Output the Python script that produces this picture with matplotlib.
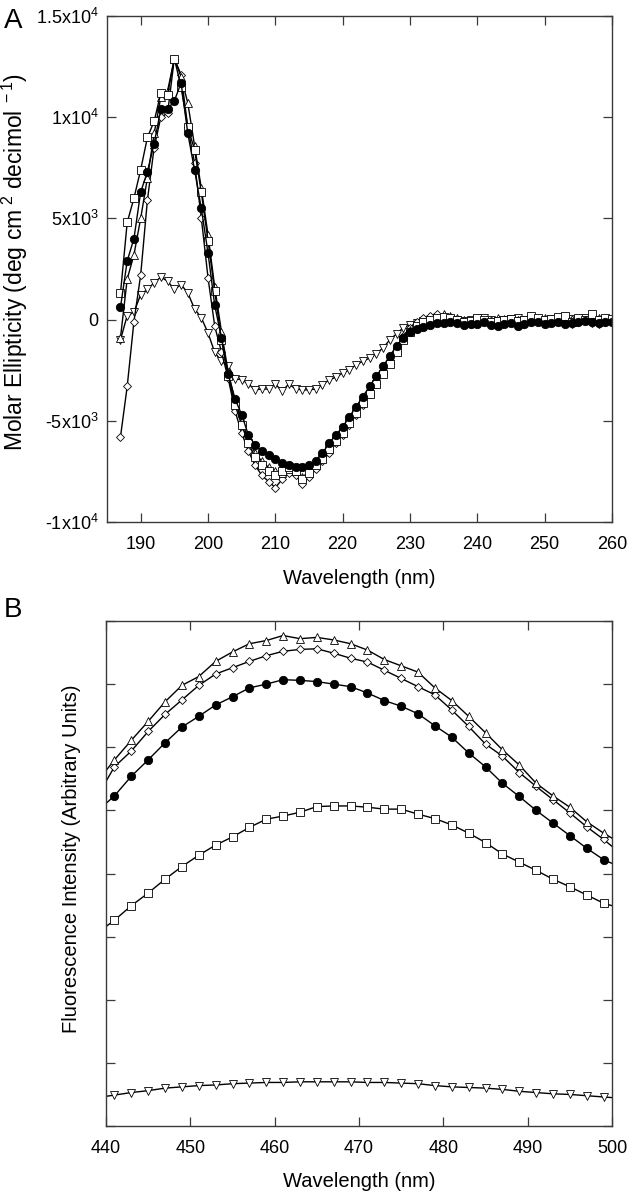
import numpy as np
import matplotlib
matplotlib.use("Agg")
import matplotlib.pyplot as plt

plt.rcParams['font.family'] = ['Liberation Sans', 'DejaVu Sans']
plt.rcParams['mathtext.fontset'] = 'custom'
plt.rcParams['mathtext.rm'] = 'Liberation Sans'
plt.rcParams['mathtext.it'] = 'Liberation Sans:italic'

# ---- panel A: circular dichroism, 187-260 nm every 1 nm ----
cd_wl = np.arange(187, 261)

cd_circle = [600, 2900, 4000, 6300, 7300, 8700, 10400, 10400, 10800, 11700,
             9200, 7400, 5500, 3300, 700, -900,
             -2700, -3900, -4700, -5700, -6200, -6500, -6700, -6900, -7100, -7200,
             -7300, -7300, -7200, -7000, -6600,
             -6100, -5700, -5300, -4800, -4300, -3800, -3300, -2800, -2300, -1800,
             -1300, -900, -600, -450, -350,
             -250, -150, -150, -100, -150, -250, -200, -200, -100, -250, -300, -200,
             -150, -300, -200, -100, -100, -200, -150, -100, -200, -150, -100, -50,
             -100, -150, -100, -100]

cd_square = [1300, 4800, 6000, 7400, 9000, 9800, 11200, 11100, 12900, 11500,
             9500, 8400, 6300, 3900, 1400, -1000,
             -2800, -4200, -5200, -6100, -6800, -7200, -7500, -7700, -7500, -7300,
             -7500, -7900, -7600, -7200, -6900,
             -6400, -6000, -5600, -5100, -4600, -4100, -3700, -3200, -2700, -2200,
             -1600, -1000, -600, -300, -100,
             0, 100, 150, 100, 0, -100, -50, 100, 0, -100, -50, 0,
             50, -50, 0, 200, 100, 0, 50, 150, 200, -100, 100, 0,
             300, 0, 100, 50]

cd_triangle = [-900, 2000, 3200, 5000, 7000, 9200, 11000, 11300, 12900, 12000,
               10700, 8600, 6500, 4200, 1600, -600,
               -2600, -4000, -5000, -5900, -6600, -7000, -7300, -7500, -7600, -7400,
               -7500, -7800, -7500, -7100, -6800,
               -6300, -5900, -5400, -4900, -4400, -3900, -3500, -3000, -2500, -2000,
               -1400, -900, -500, -300, -100,
               0, 100, 300, 200, 100, 0, -100, 0, -50, 0, 100, 50,
               0, -100, 0, 50, 0, 100, 50, 0, 100, 50, 0, 0,
               50, 100, 0, 50]

cd_diamond = [-5800, -3300, -100, 2200, 5900, 8500, 10000, 10200, 12900, 12100,
              9500, 7750, 5040, 2080, -330, -1600,
              -2900, -4500, -5600, -6500, -7200, -7700, -8000, -8300, -7900, -7600,
              -7700, -8100, -7800, -7400, -7000,
              -6600, -6100, -5700, -5200, -4700, -4200, -3700, -3200, -2600, -2000,
              -1400, -800, -400, -100, 100,
              200, 300, 200, 100, 0, -100, -200, -100, 0, -100, -50, 0,
              -100, 0, -200, -100, 0, -150, -100, 0, -50, -200, -100, 0,
              -150, -200, -100, -100]

cd_invtri = [-1000, 200, 360, 1240, 1490, 1820, 2100, 1900, 1490, 1730,
             1320, 530, 100, -660, -1620, -2060,
             -2280, -2920, -2970, -3180, -3470, -3430, -3430, -3180, -3540, -3180,
             -3430, -3470, -3470, -3430, -3220,
             -2970, -2850, -2640, -2480, -2230, -2060, -1900, -1680, -1400, -1000,
             -700, -400, -250, -150, -50,
             0, 50, 100, 50, 0, -50, 0, 50, 100, 0, -50, 0,
             50, 100, 0, 50, 0, -50, 50, 100, 0, 50, 0, 100,
             50, 0, 50, 0]

cd_yticks = [-10000, -5000, 0, 5000, 10000, 15000]
cd_yticklabels = [r'-1x10$^4$', r'-5x10$^3$', '0', r'5x10$^3$', r'1x10$^4$', r'1.5x10$^4$']

# ---- panel B: fluorescence, markers 441-499 every 2 nm, line ends at 440/500 ----
fl_wl = [440] + list(range(441, 500, 2)) + [500]

fl_triangle = [5.63, 5.80, 6.11, 6.41, 6.72, 6.98, 7.12, 7.36, 7.51, 7.64, 7.69,
               7.77, 7.72, 7.74, 7.70, 7.64, 7.54, 7.39, 7.29, 7.19, 6.94,
               6.74, 6.49, 6.23, 5.96, 5.72, 5.43, 5.23, 5.05, 4.82, 4.64, 4.56]
fl_diamond = [5.46, 5.69, 5.94, 6.25, 6.52, 6.75, 6.98, 7.16, 7.26, 7.36, 7.45,
              7.52, 7.55, 7.56, 7.49, 7.41, 7.35, 7.22, 7.09, 6.96, 6.83,
              6.59, 6.33, 6.05, 5.86, 5.60, 5.38, 5.17, 4.96, 4.74, 4.54, 4.43]
fl_circle = [5.11, 5.23, 5.54, 5.80, 6.07, 6.32, 6.49, 6.67, 6.80, 6.94, 7.00,
             7.07, 7.06, 7.04, 7.00, 6.96, 6.86, 6.74, 6.65, 6.53, 6.34,
             6.16, 5.91, 5.69, 5.43, 5.22, 5.00, 4.80, 4.60, 4.40, 4.22, 4.16]
fl_square = [3.16, 3.26, 3.49, 3.69, 3.91, 4.11, 4.29, 4.45, 4.58, 4.73, 4.86,
             4.91, 4.97, 5.06, 5.07, 5.07, 5.05, 5.02, 5.02, 4.94, 4.87,
             4.77, 4.64, 4.49, 4.31, 4.18, 4.05, 3.91, 3.79, 3.66, 3.53, 3.49]
fl_invtri = [0.47, 0.49, 0.53, 0.56, 0.60, 0.62, 0.64, 0.65, 0.67, 0.68, 0.69,
             0.69, 0.70, 0.70, 0.70, 0.70, 0.69, 0.69, 0.68, 0.67, 0.64,
             0.62, 0.61, 0.60, 0.58, 0.55, 0.53, 0.51, 0.50, 0.48, 0.46, 0.45]


def style_axes(ax):
    for s in ax.spines.values():
        s.set_color('#3a3a3a')
        s.set_linewidth(1.0)
    ax.tick_params(direction='in', length=6.5, width=0.9, color='#3a3a3a',
                   top=True, right=True, labelsize=13, pad=6)
    ax.tick_params(axis='x', pad=10)


def draw(ax, x, y, marker, filled=False, ms=5.5, every=None):
    ax.plot(x, y, color='black', lw=1.0, marker=marker, ms=ms,
            mfc='black' if filled else 'white', mec='black', mew=0.6,
            markevery=every)


fig = plt.figure(figsize=(6.31, 11.99), dpi=100)

axA = fig.add_axes([107 / 631, 1 - 522 / 1199, 505 / 631, 506 / 1199])
draw(axA, cd_wl, cd_invtri, 'v', ms=6)
draw(axA, cd_wl, cd_diamond, 'D', ms=4.5)
draw(axA, cd_wl, cd_triangle, '^', ms=6)
draw(axA, cd_wl, cd_square, 's', ms=5.5)
draw(axA, cd_wl, cd_circle, 'o', filled=True, ms=6)
axA.set_xlim(185, 260)
axA.set_ylim(-10000, 15000)
axA.set_xticks(range(190, 261, 10))
axA.set_yticks(cd_yticks)
axA.set_yticklabels(cd_yticklabels)
style_axes(axA)
axA.set_xlabel('Wavelength (nm)', fontsize=14.5)
axA.xaxis.set_label_coords(0.5, -0.092)
axA.set_ylabel(r'Molar Ellipticity (deg cm$^{\ 2}$ decimol$^{\ -1}$)', fontsize=16.5)
axA.yaxis.set_label_coords(-0.152, 0.514)

axB = fig.add_axes([106 / 631, 1 - 1126 / 1199, 506 / 631, 505 / 1199])
mk = list(range(1, len(fl_wl) - 1))
draw(axB, fl_wl, fl_invtri, 'v', ms=6, every=mk)
draw(axB, fl_wl, fl_square, 's', ms=5.5, every=mk)
draw(axB, fl_wl, fl_circle, 'o', filled=True, ms=6, every=mk)
draw(axB, fl_wl, fl_diamond, 'D', ms=4.5, every=mk)
draw(axB, fl_wl, fl_triangle, '^', ms=6, every=mk)
axB.set_xlim(440, 500)
axB.set_ylim(0, 8)
axB.set_xticks(range(440, 501, 10))
axB.set_yticks(range(0, 9))
axB.set_yticklabels([])
style_axes(axB)
axB.set_xlabel('Wavelength (nm)', fontsize=14.5)
axB.xaxis.set_label_coords(0.5, -0.092)
axB.set_ylabel('Fluorescence Intensity (Arbitrary Units)', fontsize=14.5)
axB.yaxis.set_label_coords(-0.05, 0.53)

fig.text(4 / 631, 1 - 28 / 1199, 'A', fontsize=20, va='baseline')
fig.text(4 / 631, 1 - 617 / 1199, 'B', fontsize=20, va='baseline')

fig.savefig('out.png', dpi=100)
